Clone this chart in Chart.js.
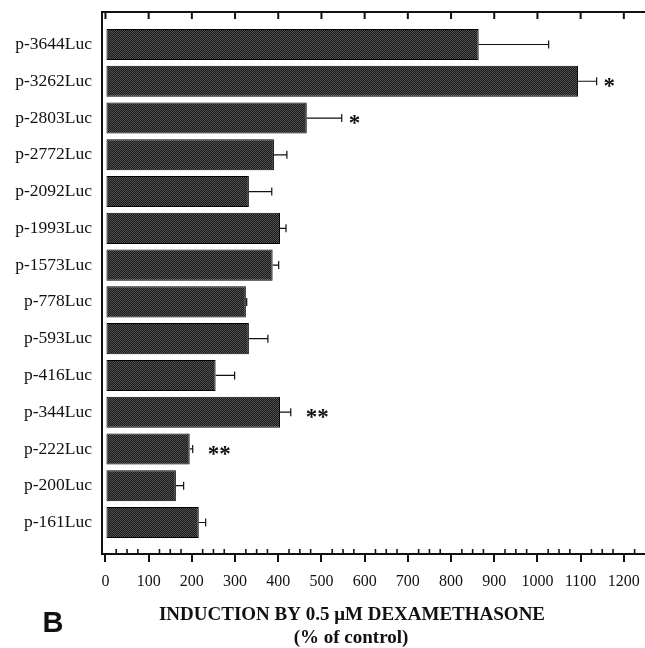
<!DOCTYPE html>
<html>
<head>
<meta charset="utf-8">
<script src="https://cdn.jsdelivr.net/npm/chart.js@4/dist/chart.umd.min.js"></script>
<style>
  html, body { margin: 0; padding: 0; background: #fff; }
  #wrap { width: 645px; height: 648px; }
</style>
</head>
<body>
<div id="wrap"><canvas id="c" width="645" height="648"></canvas></div>
<script>
// ---- data ----
const categories = ['p-3644Luc','p-3262Luc','p-2803Luc','p-2772Luc','p-2092Luc','p-1993Luc','p-1573Luc','p-778Luc','p-593Luc','p-416Luc','p-344Luc','p-222Luc','p-200Luc','p-161Luc'];
const values     = [864, 1094, 466, 390, 332, 404, 387, 325, 332, 255, 404, 195, 163, 216];
const errors     = [162,   43,  81,  30,  53,  14,  14,   2,  44,  44,  25,   7,  18,  16];
const marks      = ['', '*', '*', '', '', '', '', '', '', '', '**', '**', '', ''];
const xTickValues = [0,100,200,300,400,500,600,700,800,900,1000,1100,1200];
const xTitle1 = 'INDUCTION BY 0.5 \u03BCM DEXAMETHASONE';
const xTitle2 = '(% of control)';
const panelLabel = 'B';

// ---- bar fill pattern ----
function makePattern() {
  const p = document.createElement('canvas');
  p.width = 2; p.height = 2;
  const g = p.getContext('2d');
  g.fillStyle = '#1a1a1a'; g.fillRect(0,0,2,2);
  g.fillStyle = '#505050'; g.fillRect(0,0,1,1); g.fillRect(1,1,1,1);
  return document.getElementById('c').getContext('2d').createPattern(p, 'repeat');
}

const decorations = {
  id: 'decorations',
  afterDatasetsDraw(chart) {
    const ctx = chart.ctx;
    const xs = chart.scales.x;
    const meta = chart.getDatasetMeta(0);
    ctx.save();
    ctx.strokeStyle = '#111';
    ctx.lineWidth = 1.2;
    meta.data.forEach((bar, i) => {
      const x1 = xs.getPixelForValue(values[i]);
      const x2 = xs.getPixelForValue(values[i] + errors[i]);
      const y = bar.y;
      ctx.beginPath();
      ctx.moveTo(x1, y); ctx.lineTo(x2, y);
      ctx.moveTo(x2, y - 4); ctx.lineTo(x2, y + 4);
      ctx.stroke();
      if (marks[i]) {
        ctx.fillStyle = '#111';
        ctx.font = 'bold 23px "Liberation Serif"';
        ctx.textAlign = 'left';
        ctx.textBaseline = 'alphabetic';
        const off = marks[i].length > 1 ? 15 : 7;
        ctx.fillText(marks[i], x2 + off, y + 12);
      }
    });
    ctx.restore();
  },
  afterDraw(chart) {
    const ctx = chart.ctx;
    const xs = chart.scales.x;
    const a = chart.chartArea;
    ctx.save();
    ctx.strokeStyle = '#111';
    ctx.lineWidth = 2;
    ctx.beginPath();
    ctx.moveTo(a.left - 1, a.top); ctx.lineTo(a.right, a.top);
    ctx.stroke();
    xTickValues.forEach(v => {
      const x = xs.getPixelForValue(v);
      ctx.beginPath(); ctx.moveTo(x, a.top); ctx.lineTo(x, a.top + 7); ctx.stroke();
    });
    ctx.lineWidth = 1.6;
    for (let v = 25; v < 1250; v += 25) {
      if (v % 100 === 0) continue;
      const x = xs.getPixelForValue(v);
      ctx.beginPath(); ctx.moveTo(x, a.bottom); ctx.lineTo(x, a.bottom - 5); ctx.stroke();
    }
    ctx.fillStyle = '#111';
    ctx.textAlign = 'center';
    ctx.textBaseline = 'middle';
    ctx.font = 'bold 19px "Liberation Serif"';
    ctx.fillText(xTitle1, 352, 615);
    ctx.fillText(xTitle2, 351, 638);
    ctx.font = 'bold 29px "Liberation Sans"';
    ctx.fillText(panelLabel, 53, 624);
    ctx.restore();
  }
};

new Chart(document.getElementById('c'), {
  type: 'bar',
  data: {
    datasets: [{
      data: values.map((v, i) => ({ x: v, y: i })),
      backgroundColor: makePattern(),
      borderColor: '#000',
      borderWidth: 1,
      borderSkipped: false,
      categoryPercentage: 1,
      barPercentage: 0.845
    }]
  },
  options: {
    indexAxis: 'y',
    responsive: false,
    animation: false,
    events: [],
    layout: { padding: { left: 0, right: 0, top: 12, bottom: 0 } },
    plugins: { legend: { display: false }, tooltip: { enabled: false } },
    scales: {
      y: {
        type: 'linear',
        reverse: true,
        offset: false,
        min: -0.884,
        max: 13.857,
        afterFit(s) { s.width = 102; s.paddingTop = 0; s.paddingBottom = 0; },
        afterBuildTicks(s) { s.ticks = categories.map((_, i) => ({ value: i })); },
        grid: { display: false, drawTicks: false, offset: false },
        border: { display: true, color: '#111', width: 2 },
        ticks: {
          padding: 10,
          color: '#111',
          font: { family: '"Liberation Serif"', size: 17.5 },
          callback: (v) => categories[v]
        }
      },
      x: {
        type: 'linear',
        min: -8,
        max: 1249,
        afterFit(s) { s.height = 94; s.paddingLeft = 0; s.paddingRight = 0; },
        afterBuildTicks(s) { s.ticks = xTickValues.map(v => ({ value: v })); },
        grid: { drawOnChartArea: false, drawTicks: true, tickLength: 8, color: '#111', lineWidth: 2 },
        border: { display: true, color: '#111', width: 2 },
        ticks: {
          padding: 10,
          maxRotation: 0,
          autoSkip: false,
          color: '#111',
          font: { family: '"Liberation Serif"', size: 16 },
          callback: (v) => String(v)
        }
      }
    }
  },
  plugins: [decorations]
});
</script>
</body>
</html>
